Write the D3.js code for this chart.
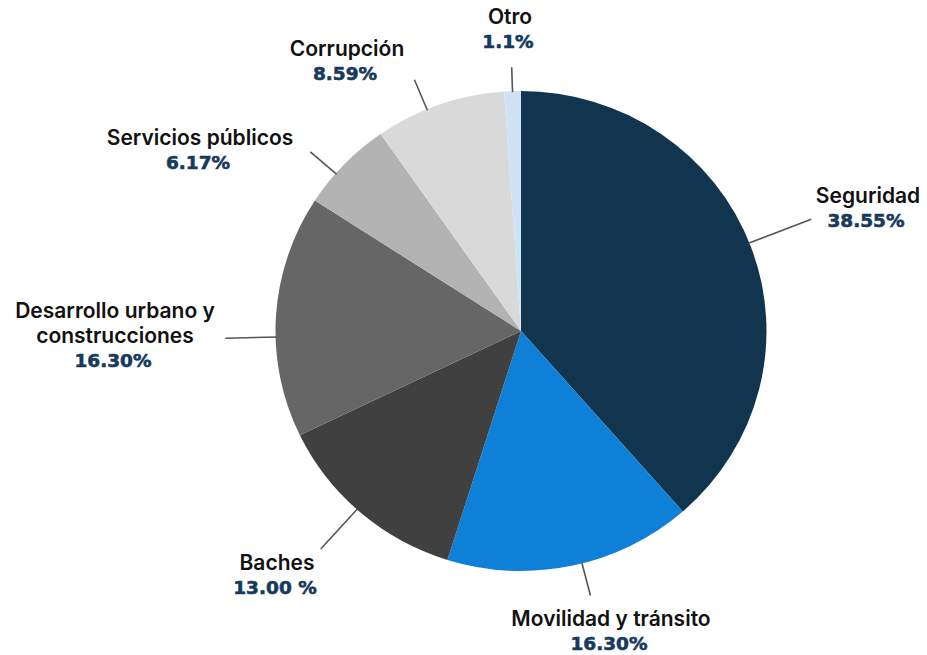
<!DOCTYPE html>
<html>
<head>
  <meta charset="UTF-8">
  <title>Pie chart</title>
  <script src="https://d3js.org/d3.v7.min.js"></script>
  <style>
    body { margin: 0; background: #fff; }
  </style>
</head>
<body>
  <svg width="927" height="655"></svg>

  <script>
    // Data
    const categories = ["Seguridad", "Movilidad y tránsito", "Baches",
      "Desarrollo urbano y construcciones", "Servicios públicos", "Corrupción", "Otro"];
    const values = [38.55, 16.30, 13.00, 16.30, 6.17, 8.59, 1.1];
    const valueLabels = ["38.55%", "16.30%", "13.00 %", "16.30%", "6.17%", "8.59%", "1.1%"];

    // Styles / layout
    const colors = ["#12354f", "#0f80d8", "#404040", "#666666", "#b3b3b3", "#d9d9d9", "#cfe2f3"];
    // name lines for the labels
    const nameLines = [["Seguridad"], ["Movilidad y tránsito"], ["Baches"],
      ["Desarrollo urbano y", "construcciones"], ["Servicios públicos"], ["Corrupción"], ["Otro"]];
    // leader: angle offset from slice middle (deg) and outer radius
    const leaderOffset = [-0.9, -2.5, 1.1, -5, -3, -3.1, 0];
    const leaderOuter = [305, 273, 293, 289, 273, 272, 264];
    // label block: center x, baseline of first line
    const labelX = [868, 611, 277, 115, 200, 347, 510];
    const labelY = [203, 626, 570, 318, 145, 56, 24];

    const cx = 521, cy = 331;
    const radius = 240;
    const stretchX = 245.5 / 240;

    const svg = d3.select("svg");

    const pie = d3.pie().sort(null).value(d => d);
    const arcs = pie(values);
    const arc = d3.arc().innerRadius(0).outerRadius(radius);

    const g = svg.append("g")
      .attr("transform", `translate(${cx}, ${cy}) scale(${stretchX}, 1)`);

    g.selectAll("path.slice")
      .data(arcs)
      .join("path")
      .attr("class", "slice")
      .attr("d", arc)
      .attr("fill", (d, i) => colors[i]);

    // Leader lines
    g.selectAll("line.leader")
      .data(arcs)
      .join("line")
      .attr("class", "leader")
      .each(function (d, i) {
        const a = (d.startAngle + d.endAngle) / 2 + leaderOffset[i] * Math.PI / 180;
        d3.select(this)
          .attr("x1", Math.sin(a) * (radius - 1))
          .attr("y1", -Math.cos(a) * (radius - 1))
          .attr("x2", Math.sin(a) * leaderOuter[i])
          .attr("y2", -Math.cos(a) * leaderOuter[i]);
      })
      .attr("stroke", "#555")
      .attr("stroke-width", 1.6)
      .attr("vector-effect", "non-scaling-stroke");

    // Labels
    const labels = svg.append("g")
      .selectAll("g")
      .data(categories)
      .join("g");

    labels.each(function (c, i) {
      const sel = d3.select(this);
      const lines = nameLines[i];
      lines.forEach((t, k) => {
        sel.append("text")
          .attr("x", labelX[i])
          .attr("y", labelY[i] + k * 25)
          .attr("text-anchor", "middle")
          .style("font-family", "Inter, 'Noto Sans', sans-serif")
          .style("font-weight", 600)
          .style("font-size", "21px")
          .style("fill", "#111")
          .text(t);
      });
      sel.append("text")
        .attr("x", labelX[i] - 2)
        .attr("y", labelY[i] + (lines.length - 1) * 25 + 24)
        .attr("text-anchor", "middle")
        .style("font-family", "'DejaVu Sans', sans-serif")
        .style("font-weight", 700)
        .style("font-size", "18.5px")
        .style("fill", "#173a5c")
        .style("stroke", "#173a5c")
        .style("stroke-width", 0.6)
        .text(valueLabels[i]);
    });
  </script>
</body>
</html>
